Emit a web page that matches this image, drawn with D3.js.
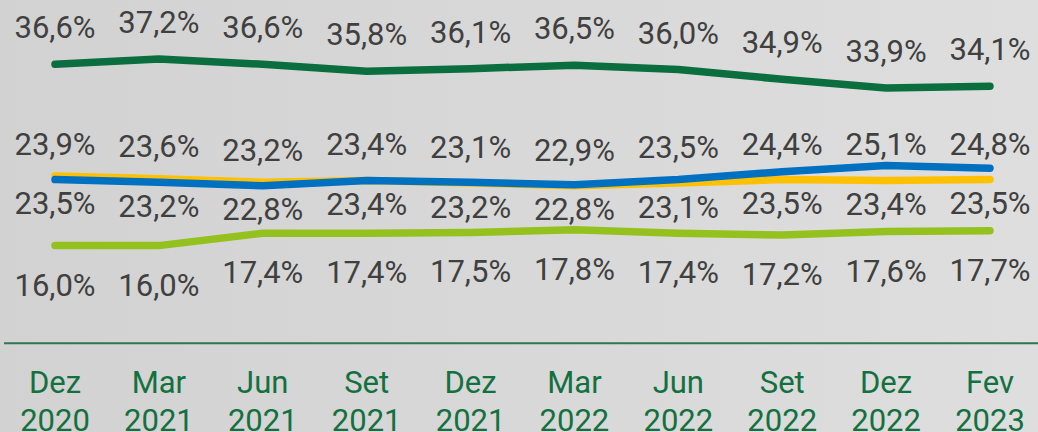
<!DOCTYPE html>
<html>
<head>
<meta charset="utf-8">
<script src="https://cdn.jsdelivr.net/npm/d3@7"></script>
<style>
  html, body { margin: 0; padding: 0; background: #d8d8d8; }
  svg { display: block; }
</style>
</head>
<body>
<svg id="chart" width="1038" height="432"></svg>
<script>
// ---- data ----
const categories = ["Dez 2020", "Mar 2021", "Jun 2021", "Set 2021", "Dez 2021",
                    "Mar 2022", "Jun 2022", "Set 2022", "Dez 2022", "Fev 2023"];
const darkGreenValues  = [36.6, 37.2, 36.6, 35.8, 36.1, 36.5, 36.0, 34.9, 33.9, 34.1];
const yellowValues     = [23.9, 23.6, 23.2, 23.4, 23.1, 22.8, 23.1, 23.5, 23.4, 23.5];
const blueValues       = [23.5, 23.2, 22.8, 23.4, 23.2, 22.9, 23.5, 24.4, 25.1, 24.8];
const lightGreenValues = [16.0, 16.0, 17.4, 17.4, 17.5, 17.8, 17.4, 17.2, 17.6, 17.7];
// which of the two middle series carries the label written above the pair
const pairTopSeries = ["yellow", "yellow", "yellow", "yellow", "yellow",
                       "blue", "blue", "blue", "blue", "blue"];

// ---- setup ----
const W = 1038, H = 432;
const svg = d3.select("#chart");

const defs = svg.append("defs");
const grad = defs.append("linearGradient").attr("id", "bg")
  .attr("x1", "0%").attr("y1", "0%").attr("x2", "100%").attr("y2", "0%");
grad.append("stop").attr("offset", "0%").attr("stop-color", "#d2d2d2");
grad.append("stop").attr("offset", "100%").attr("stop-color", "#dedede");
svg.append("rect").attr("width", W).attr("height", H).attr("fill", "url(#bg)");

const x = d3.scalePoint().domain(categories).range([55, 990]);
const y = d3.scaleLinear().domain([16.0, 37.2]).range([245.6, 59]);

const fmt = v => d3.format(".1f")(v).replace(".", ",") + "%";
const FONT = "Roboto, 'Open Sans', sans-serif";
const labelColor = "#404040";

function drawLine(values, color) {
  const line = d3.line().x((d, i) => x(categories[i])).y(d => y(d));
  svg.append("path").datum(values)
    .attr("d", line)
    .attr("fill", "none")
    .attr("stroke", color)
    .attr("stroke-width", 7.5)
    .attr("stroke-linecap", "round")
    .attr("stroke-linejoin", "round");
}

drawLine(darkGreenValues, "#0b6e3f");
drawLine(lightGreenValues, "#95c11f");
drawLine(yellowValues, "#ffc000");
drawLine(blueValues, "#0070c0");

function drawLabels(values, yFn) {
  svg.append("g").selectAll("text").data(values).join("text")
    .attr("x", (d, i) => x(categories[i]))
    .attr("y", (d, i) => yFn(d, i))
    .attr("text-anchor", "middle")
    .attr("font-family", FONT)
    .attr("font-size", 31)
    .attr("fill", labelColor)
    .text(d => fmt(d));
}

// dark green labels above the line
drawLabels(darkGreenValues, d => y(d) - 26);
// light green labels below the line
drawLabels(lightGreenValues, d => y(d) + 50);

// middle pair labels
const topVals = categories.map((c, i) => pairTopSeries[i] === "yellow" ? yellowValues[i] : blueValues[i]);
const botVals = categories.map((c, i) => pairTopSeries[i] === "yellow" ? blueValues[i] : yellowValues[i]);
const pairLow = categories.map((c, i) => Math.min(yellowValues[i], blueValues[i]));
drawLabels(topVals, (d, i) => y(pairLow[i]) - 25);
drawLabels(botVals, (d, i) => y(pairLow[i]) + 34.5);

// ---- x axis ----
svg.append("line")
  .attr("x1", 4).attr("x2", W)
  .attr("y1", 343.3).attr("y2", 343.3)
  .attr("stroke", "#2f7553").attr("stroke-width", 2);

const catG = svg.append("g").selectAll("text").data(categories).join("text")
  .attr("x", d => x(d))
  .attr("y", 393)
  .attr("text-anchor", "middle")
  .attr("font-family", FONT)
  .attr("font-size", 31)
  .attr("fill", "#13703f");
catG.each(function(d) {
  const parts = d.split(" ");
  const t = d3.select(this);
  t.append("tspan").attr("x", x(d)).attr("dy", 0).text(parts[0]);
  t.append("tspan").attr("x", x(d)).attr("dy", 37.5).text(parts[1]);
});
</script>
</body>
</html>
